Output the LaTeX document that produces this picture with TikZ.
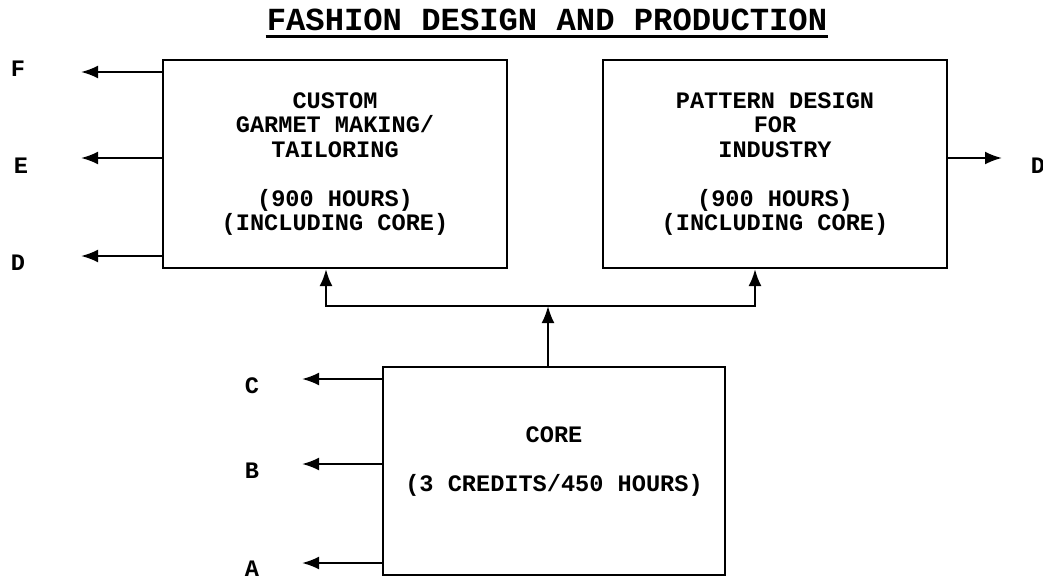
\documentclass[tikz,border=0pt]{standalone}
\usepackage{fontspec}
\setmainfont{Liberation Mono}
\usetikzlibrary{arrows.meta}

\begin{document}
\begin{tikzpicture}[x=0.5pt,y=-0.5pt,>={Latex[length=8.5pt,width=6.5pt]},line width=1.1pt,
  every node/.style={font=\bfseries\fontsize{11.8}{12.25}\selectfont},
  blk/.style={draw,rectangle,line width=1.1pt,minimum width=172pt,minimum height=104pt,align=center,inner sep=0pt},
  lbl/.style={inner sep=0pt}]
\useasboundingbox (0,0) rectangle (1043,579);
\node[lbl,font=\bfseries\fontsize{16.1}{18}\selectfont] (title) at (547,19.5) {FASHION DESIGN AND PRODUCTION};
\draw[line width=1.6pt] ([yshift=-3.2pt]title.base west) -- ([yshift=-3.2pt]title.base east);
\node[blk] (cust) at (335,164) {CUSTOM\\GARMET MAKING/\\TAILORING\\ \\(900 HOURS)\\(INCLUDING CORE)};
\node[blk] (patt) at (775,164) {PATTERN DESIGN\\FOR\\INDUSTRY\\ \\(900 HOURS)\\(INCLUDING CORE)};
\node[blk,minimum width=171pt] (core) at (554,471) {CORE\\ \\(3 CREDITS/450 HOURS)\\ };
\node[lbl] (lF) at (18,69) {F};
\node[lbl] (lE) at (21,166) {E};
\node[lbl] (lD) at (18,263) {D};
\node[lbl] (rD) at (1038,166) {D};
\node[lbl] (lC) at (252,386) {C};
\node[lbl] (lB) at (252,471) {B};
\node[lbl] (lA) at (252,569) {A};
\coordinate (tF) at (81,72);
\coordinate (tE) at (81,158);
\coordinate (tD) at (81,256);
\coordinate (tR) at (1002,158);
\coordinate (tC) at (302,379);
\coordinate (tB) at (302,464);
\coordinate (tA) at (302,563);
\coordinate (bus) at (548,306);
\coordinate (busL) at (326,306);
\coordinate (busR) at (755,306);
\draw[->] (cust.west |- tF) -- (tF);
\draw[->] (cust.west |- tE) -- (tE);
\draw[->] (cust.west |- tD) -- (tD);
\draw[->] (patt.east |- tR) -- (tR);
\draw[->] (core.west |- tC) -- (tC);
\draw[->] (core.west |- tB) -- (tB);
\draw[->] (core.west |- tA) -- (tA);
\draw[->] (core.north -| bus) -- (bus);
\draw[<->] (cust.south -| busL) -- (busL) -- (busR) -- (patt.south -| busR);
\end{tikzpicture}
\end{document}
